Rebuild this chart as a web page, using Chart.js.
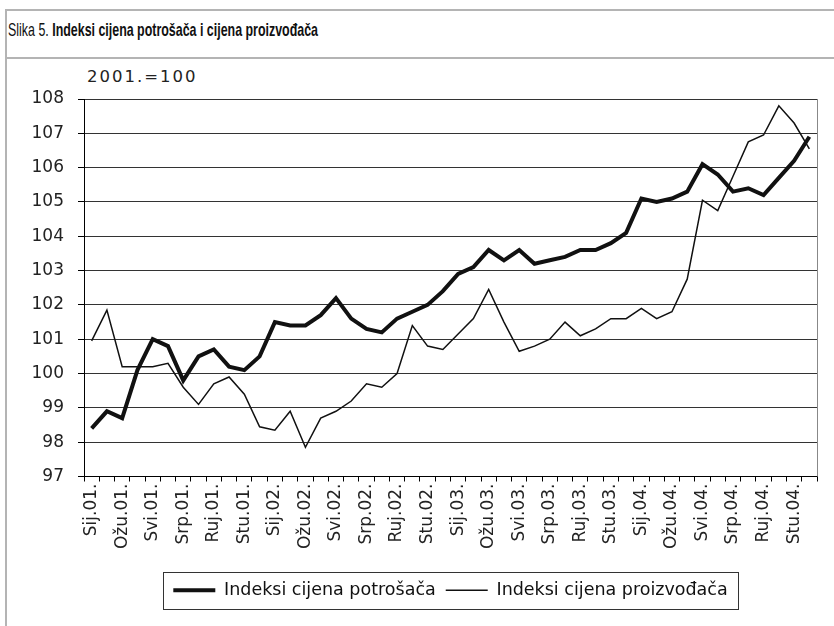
<!DOCTYPE html>
<html><head><meta charset="utf-8">
<script src="https://cdn.jsdelivr.net/npm/chart.js@4.4.1/dist/chart.umd.min.js"></script>
<style>
html,body{margin:0;padding:0;background:#fff;}
#wrap{position:relative;width:834px;height:626px;overflow:hidden;background:#fff;}
.fr{position:absolute;background:#b4b4b4;}
#title{position:absolute;left:8px;top:21px;font-family:"Liberation Sans Narrow","Liberation Sans",sans-serif;font-size:19px;line-height:18px;color:#111;white-space:nowrap;transform-origin:0 0;}
#title b{font-weight:bold;}
#unit{position:absolute;left:87px;top:69px;font-family:"DejaVu Sans",sans-serif;font-size:16.5px;line-height:16px;letter-spacing:2px;color:#222;white-space:nowrap;}
canvas{position:absolute;left:0;top:0;}
</style></head>
<body>
<div id="wrap">
  <div class="fr" style="left:5px;top:9px;width:2px;height:617px;"></div>
  <div class="fr" style="left:5px;top:9px;width:829px;height:2px;"></div>
  <div class="fr" style="left:5px;top:57px;width:829px;height:2px;"></div>
  <div id="title">Slika 5. <b>Indeksi cijena potrošača i cijena proizvođača</b></div>
  <div id="unit">2001.=100</div>
  <canvas id="c" width="834" height="626"></canvas>
</div>
<script>
(function(){
  const t = document.getElementById('title');
  const w = t.getBoundingClientRect().width;
  if (w > 0) t.style.transform = 'scaleX(' + (310 / w) + ')';
})();

const months = ["Sij","Velj","Ožu","Tra","Svi","Lip","Srp","Kol","Ruj","Lis","Stu","Pro"];
const years = ["01","02","03","04"];
const categories = [];
years.forEach(y => months.forEach(m => categories.push(m + "." + y + ".")));

const seriesNames = ["Indeksi cijena potrošača", "Indeksi cijena proizvođača"];

const cpi = [98.4, 98.9, 98.7, 100.1, 101.0, 100.8, 99.8, 100.5, 100.7, 100.2, 100.1, 100.5,
             101.5, 101.4, 101.4, 101.7, 102.2, 101.6, 101.3, 101.2, 101.6, 101.8, 102.0, 102.4,
             102.9, 103.1, 103.6, 103.3, 103.6, 103.2, 103.3, 103.4, 103.6, 103.6, 103.8, 104.1,
             105.1, 105.0, 105.1, 105.3, 106.1, 105.8, 105.3, 105.4, 105.2, 105.7, 106.2, 106.9];

const ppi = [100.95, 101.85, 100.2, 100.2, 100.2, 100.3, 99.6, 99.1, 99.7, 99.9, 99.4, 98.45,
             98.35, 98.9, 97.85, 98.7, 98.9, 99.2, 99.7, 99.6, 100.0, 101.4, 100.8, 100.7,
             101.15, 101.6, 102.45, 101.5, 100.65, 100.8, 101.0, 101.5, 101.1, 101.3, 101.6, 101.6,
             101.9, 101.6, 101.8, 102.75, 105.05, 104.75, 105.75, 106.75, 106.95, 107.8, 107.3, 106.55];

const yTicks = {min: 97, max: 108, step: 1};

const legendBox = {
  id: 'legendBox',
  afterDraw(chart) {
    const lg = chart.legend;
    if (!lg || !lg.legendHitBoxes || !lg.legendHitBoxes.length) return;
    const hb = lg.legendHitBoxes;
    const l = Math.min(...hb.map(h => h.left));
    const r = Math.max(...hb.map(h => h.left + h.width));
    const t = Math.min(...hb.map(h => h.top));
    const b = Math.max(...hb.map(h => h.top + h.height));
    const ctx = chart.ctx;
    ctx.save();
    ctx.strokeStyle = '#333';
    ctx.lineWidth = 1;
    const x0 = Math.round(l - 10), x1 = Math.round(r + 10);
    const y0 = Math.round(t - 10), y1 = Math.round(b + 10);
    ctx.strokeRect(x0 + 0.5, y0 + 0.5, x1 - x0, y1 - y0);
    ctx.restore();
  }
};

const rightBorder = {
  id: 'rightBorder',
  beforeDatasetsDraw(chart) {
    const {ctx, chartArea: a} = chart;
    ctx.save();
    ctx.strokeStyle = '#888';
    ctx.lineWidth = 1;
    const x = Math.round(a.right) + 0.5;
    ctx.beginPath();
    ctx.moveTo(x, a.top);
    ctx.lineTo(x, a.bottom);
    ctx.stroke();
    ctx.restore();
  }
};

new Chart(document.getElementById('c'), {
  type: 'line',
  data: {
    labels: categories,
    datasets: [
      {label: seriesNames[0], data: cpi, borderColor: '#111', backgroundColor: '#111', borderWidth: 4, pointRadius: 0, tension: 0, fill: false},
      {label: seriesNames[1], data: ppi, borderColor: '#111', backgroundColor: '#111', borderWidth: 1.5, pointRadius: 0, tension: 0, fill: false}
    ]
  },
  options: {
    responsive: false,
    animation: false,
    layout: {padding: {top: 99, right: 17, left: 0, bottom: 17}},
    plugins: {
      title: {display: false},
      tooltip: {enabled: false},
      legend: {
        display: true,
        position: 'bottom',
        fullSize: false,
        labels: {
          usePointStyle: true,
          pointStyle: 'line',
          pointStyleWidth: 42,
          boxWidth: 42,
          padding: 10,
          color: '#111',
          font: {family: 'DejaVu Sans', size: 17.5}
        }
      }
    },
    scales: {
      x: {
        type: 'category',
        offset: true,
        grid: {offset: true, drawOnChartArea: false, drawTicks: true, tickLength: 5, tickColor: '#000', color: '#000'},
        border: {display: true, color: '#000', width: 1},
        ticks: {
          autoSkip: false, maxRotation: 90, minRotation: 90, padding: 2, color: '#222',
          font: {family: 'DejaVu Sans', size: 17},
          callback: (v, i) => (i % 2 === 0 ? categories[i] : '')
        },
        afterFit: s => { s.height = 95; }
      },
      y: {
        min: yTicks.min, max: yTicks.max,
        ticks: {stepSize: yTicks.step, padding: 14, color: '#222', font: {family: 'DejaVu Sans', size: 17}},
        grid: {color: '#333', lineWidth: 1, tickLength: 6, tickColor: '#000'},
        border: {display: true, color: '#000', width: 1},
        afterFit: s => { s.width = 84; }
      }
    }
  },
  plugins: [legendBox, rightBorder]
});
</script>
</body></html>
